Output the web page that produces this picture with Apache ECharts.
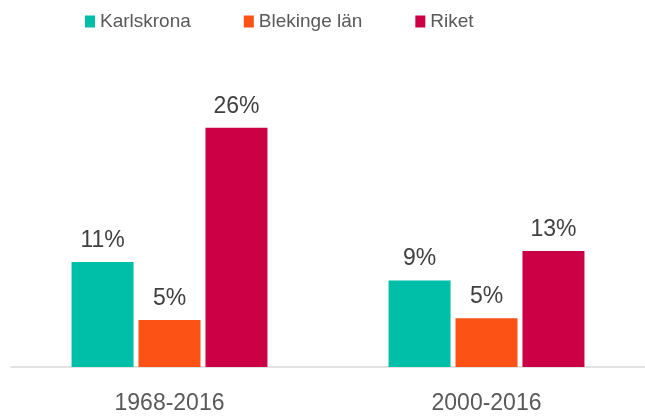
<!DOCTYPE html>
<html>
<head>
<meta charset="utf-8">
<script src="https://cdn.jsdelivr.net/npm/echarts@6/dist/echarts.min.js"></script>
<style>
  html, body { margin: 0; padding: 0; background: #fff; }
  #chart { width: 645px; height: 419px; }
</style>
</head>
<body>
<div id="chart"></div>
<script>
const categories = ['1968-2016', '2000-2016'];
const seriesNames = ['Karlskrona', 'Blekinge län', 'Riket'];
const karlskrona = [11.4, 9.4];
const blekinge = [5.1, 5.3];
const riket = [26, 12.6];
const colors = ['#00bfa8', '#fc5216', '#cc0044'];

const chart = echarts.init(document.getElementById('chart'));
const font = 'Liberation Sans, Arial, sans-serif';

const mkSeries = (name, data, i) => ({
  name,
  type: 'bar',
  data,
  barWidth: 62,
  barGap: '8%',
  itemStyle: { color: colors[i] },
  label: {
    show: true,
    position: 'top',
    distance: 10,
    fontSize: 23,
    fontFamily: font,
    color: '#404040',
    formatter: p => Math.round(p.value) + '%'
  }
});

chart.setOption({
  animation: false,
  legend: {
    top: 7,
    left: 80,
    itemWidth: 10,
    itemHeight: 12,
    itemGap: 53,
    icon: 'rect',
    textStyle: { fontSize: 19, fontFamily: font, color: '#595959' },
    data: seriesNames
  },
  grid: { left: 11, right: 0, top: 91, bottom: 52 },
  xAxis: {
    type: 'category',
    data: categories,
    axisTick: { show: false },
    axisLine: { lineStyle: { color: '#d9d9d9', width: 1.5 } },
    axisLabel: { fontSize: 23, fontFamily: font, color: '#595959', margin: 25 }
  },
  yAxis: {
    type: 'value',
    min: 0,
    max: 30,
    show: false
  },
  series: [
    mkSeries(seriesNames[0], karlskrona, 0),
    mkSeries(seriesNames[1], blekinge, 1),
    mkSeries(seriesNames[2], riket, 2)
  ]
});
</script>
</body>
</html>
